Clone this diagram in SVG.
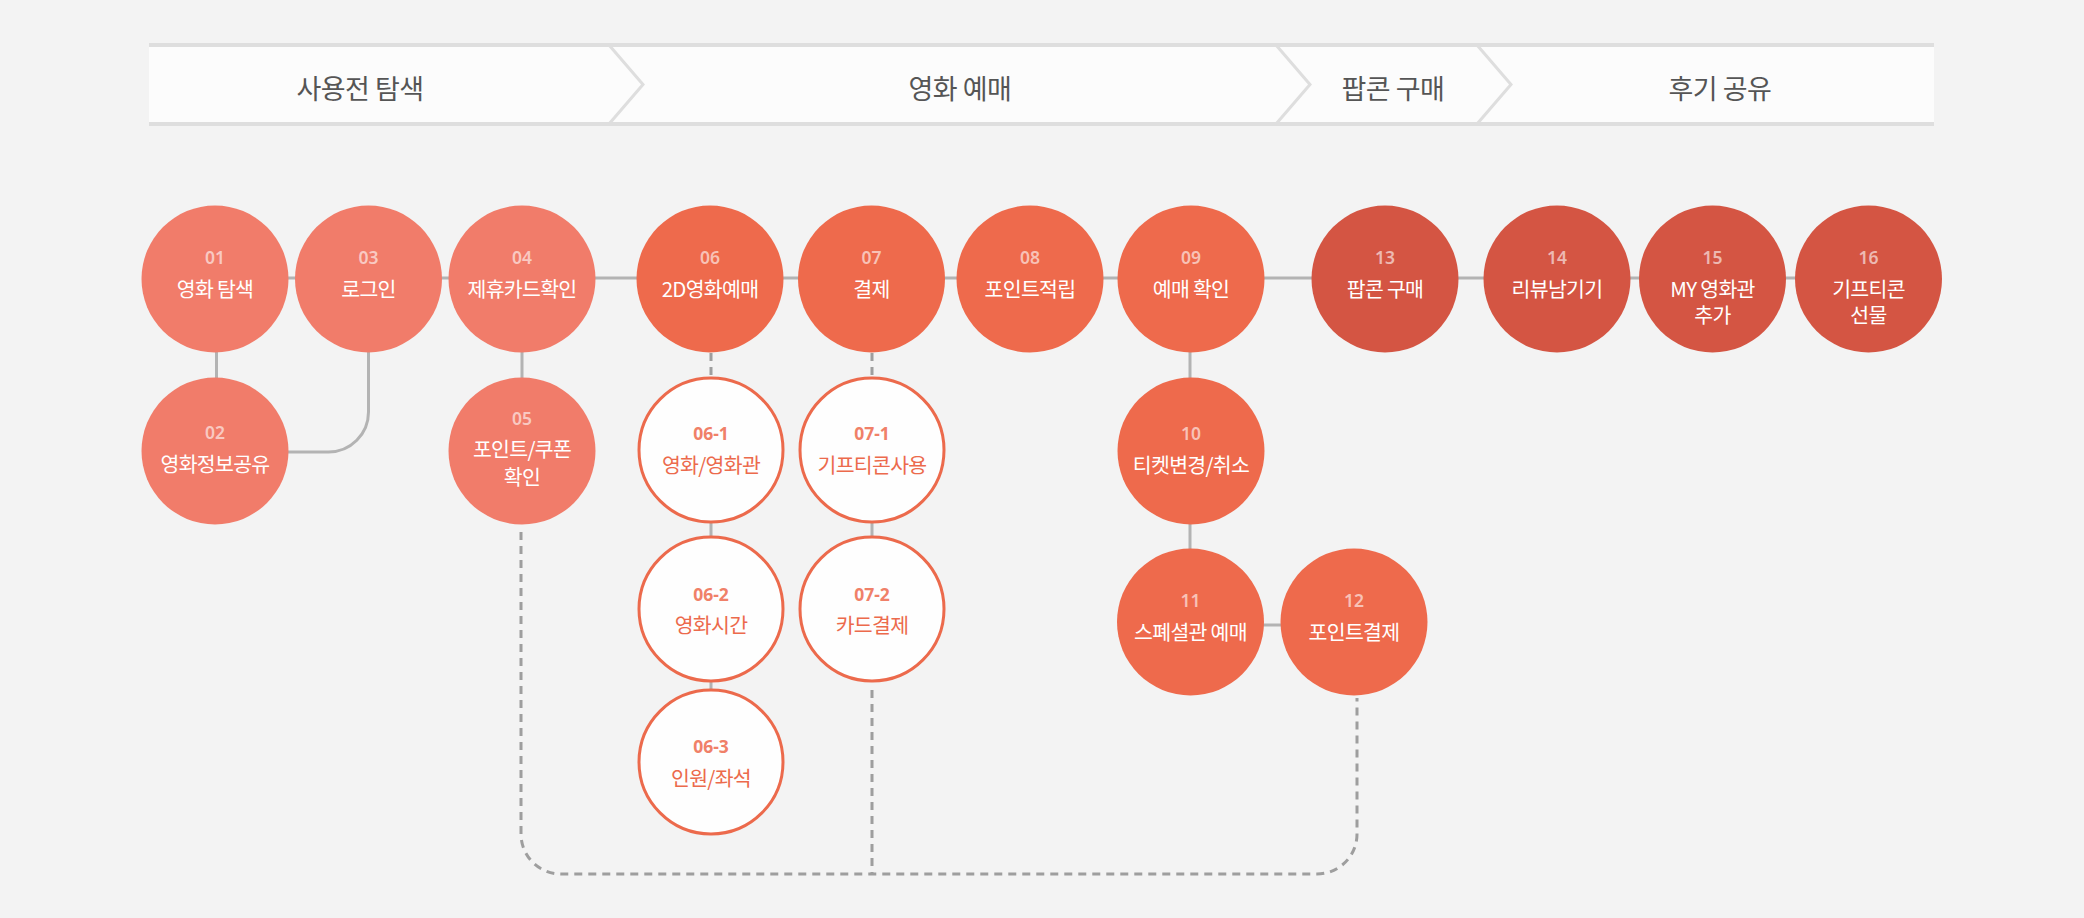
<svg xmlns="http://www.w3.org/2000/svg" width="2084" height="918" viewBox="0 0 2084 918">
<style>
.hdr{font-family:"Noto Sans CJK KR","Noto Sans",sans-serif;font-size:27px;fill:#555;text-anchor:middle;letter-spacing:-0.5px}
.num{font-family:"Noto Sans","Noto Sans CJK KR",sans-serif;font-size:17.5px;font-weight:600;text-anchor:middle;fill:#fff;fill-opacity:0.6}
.lbl{font-family:"Noto Sans CJK KR","Noto Sans",sans-serif;font-size:20.5px;text-anchor:middle;fill:#fff;letter-spacing:-0.7px}
.c1{fill:#f17c6a}
.c2{fill:#ee6a4c}
.c3{fill:#d45543}
.sub{fill:#fefefe;stroke:#ec6a4c;stroke-width:3}
.snum{fill:#f08068;fill-opacity:1;font-weight:700}
.slbl{fill:#ec6a4c}
.solid{fill:none;stroke:#b3b3b3;stroke-width:3}
.dash{fill:none;stroke:#9e9e9e;stroke-width:3;stroke-dasharray:8 6}
.chev{fill:none;stroke:#dedede;stroke-width:3}
</style>
<rect x="0" y="0" width="2084" height="918" fill="#f3f3f3"/>
<g id="header">
<rect x="149" y="45" width="1785" height="79" fill="#fcfcfc"/>
<line x1="149" y1="45" x2="1934" y2="45" stroke="#dedede" stroke-width="4"/>
<line x1="149" y1="124" x2="1934" y2="124" stroke="#dedede" stroke-width="4"/>
<polyline class="chev" points="609,45 643,84.5 609,124"/>
<polyline class="chev" points="1276,45 1310,84.5 1276,124"/>
<polyline class="chev" points="1477,45 1511,84.5 1477,124"/>
<text class="hdr" x="360" y="99">사용전 탐색</text>
<text class="hdr" x="960" y="99">영화 예매</text>
<text class="hdr" x="1393" y="99">팝콘 구매</text>
<text class="hdr" x="1720" y="99">후기 공유</text>
</g>
<g id="connectors">
<line class="solid" x1="215" y1="278" x2="1868" y2="278"/>
<line class="solid" x1="216.5" y1="340" x2="216.5" y2="390"/>
<path class="solid" d="M368.5,340 V412 A40,40 0 0 1 328.5,452 H280"/>
<line class="solid" x1="522" y1="340" x2="522" y2="390"/>
<line class="solid" x1="1190" y1="340" x2="1190" y2="390"/>
<line class="solid" x1="1190" y1="510" x2="1190" y2="560"/>
<line class="solid" x1="1250" y1="625" x2="1300" y2="625"/>
<line class="dash" x1="711" y1="353" x2="711" y2="377"/>
<line class="dash" x1="872" y1="353" x2="872" y2="377"/>
<line class="solid" x1="711" y1="523" x2="711" y2="536" stroke="#999" stroke-width="2"/>
<line class="solid" x1="872" y1="523" x2="872" y2="536" stroke="#999" stroke-width="2"/>
<line class="solid" x1="711" y1="682" x2="711" y2="689" stroke="#999" stroke-width="2"/>
<path class="dash" d="M521,532 V834 A40,40 0 0 0 561,874 H1317 A40,40 0 0 0 1357,834 V698"/>
<line class="dash" x1="872" y1="690" x2="872" y2="874"/>
</g>
<g id="n01"><circle class="c1" cx="215" cy="279" r="73.5"/><text class="num" x="215" y="264">01</text><text class="lbl" x="215" y="297">영화 탐색</text></g>
<g id="n02"><circle class="c1" cx="215" cy="451" r="73.5"/><text class="num" x="215" y="439">02</text><text class="lbl" x="215" y="472">영화정보공유</text></g>
<g id="n03"><circle class="c1" cx="368.5" cy="279" r="73.5"/><text class="num" x="368.5" y="264">03</text><text class="lbl" x="368.5" y="297">로그인</text></g>
<g id="n04"><circle class="c1" cx="522" cy="279" r="73.5"/><text class="num" x="522" y="264">04</text><text class="lbl" x="522" y="297">제휴카드확인</text></g>
<g id="n05"><circle class="c1" cx="522" cy="451" r="73.5"/><text class="num" x="522" y="425">05</text><text class="lbl" x="522" y="457">포인트/쿠폰</text><text class="lbl" x="522" y="485">확인</text></g>
<g id="n06"><circle class="c2" cx="710" cy="279" r="73.5"/><text class="num" x="710" y="264">06</text><text class="lbl" x="710" y="297">2D영화예매</text></g>
<g id="n06-1"><circle class="sub" cx="711" cy="450" r="72"/><text class="num snum" x="711" y="440">06-1</text><text class="lbl slbl" x="711" y="473">영화/영화관</text></g>
<g id="n06-2"><circle class="sub" cx="711" cy="609" r="72"/><text class="num snum" x="711" y="601">06-2</text><text class="lbl slbl" x="711" y="633">영화시간</text></g>
<g id="n06-3"><circle class="sub" cx="711" cy="762" r="72"/><text class="num snum" x="711" y="753">06-3</text><text class="lbl slbl" x="711" y="786">인원/좌석</text></g>
<g id="n07"><circle class="c2" cx="871.5" cy="279" r="73.5"/><text class="num" x="871.5" y="264">07</text><text class="lbl" x="871.5" y="297">결제</text></g>
<g id="n07-1"><circle class="sub" cx="872" cy="450" r="72"/><text class="num snum" x="872" y="440">07-1</text><text class="lbl slbl" x="872" y="473">기프티콘사용</text></g>
<g id="n07-2"><circle class="sub" cx="872" cy="609" r="72"/><text class="num snum" x="872" y="601">07-2</text><text class="lbl slbl" x="872" y="633">카드결제</text></g>
<g id="n08"><circle class="c2" cx="1030" cy="279" r="73.5"/><text class="num" x="1030" y="264">08</text><text class="lbl" x="1030" y="297">포인트적립</text></g>
<g id="n09"><circle class="c2" cx="1191" cy="279" r="73.5"/><text class="num" x="1191" y="264">09</text><text class="lbl" x="1191" y="297">예매 확인</text></g>
<g id="n10"><circle class="c2" cx="1191" cy="451" r="73.5"/><text class="num" x="1191" y="440">10</text><text class="lbl" x="1191" y="473">티켓변경/취소</text></g>
<g id="n11"><circle class="c2" cx="1190.5" cy="622" r="73.5"/><text class="num" x="1190.5" y="607">11</text><text class="lbl" x="1190.5" y="640">스폐셜관 예매</text></g>
<g id="n12"><circle class="c2" cx="1354" cy="622" r="73.5"/><text class="num" x="1354" y="607">12</text><text class="lbl" x="1354" y="640">포인트결제</text></g>
<g id="n13"><circle class="c3" cx="1385" cy="279" r="73.5"/><text class="num" x="1385" y="264">13</text><text class="lbl" x="1385" y="297">팝콘 구매</text></g>
<g id="n14"><circle class="c3" cx="1557" cy="279" r="73.5"/><text class="num" x="1557" y="264">14</text><text class="lbl" x="1557" y="297">리뷰남기기</text></g>
<g id="n15"><circle class="c3" cx="1712.5" cy="279" r="73.5"/><text class="num" x="1712.5" y="264">15</text><text class="lbl" x="1712.5" y="297">MY 영화관</text><text class="lbl" x="1712.5" y="323">추가</text></g>
<g id="n16"><circle class="c3" cx="1868.5" cy="279" r="73.5"/><text class="num" x="1868.5" y="264">16</text><text class="lbl" x="1868.5" y="297">기프티콘</text><text class="lbl" x="1868.5" y="323">선물</text></g>
</svg>
